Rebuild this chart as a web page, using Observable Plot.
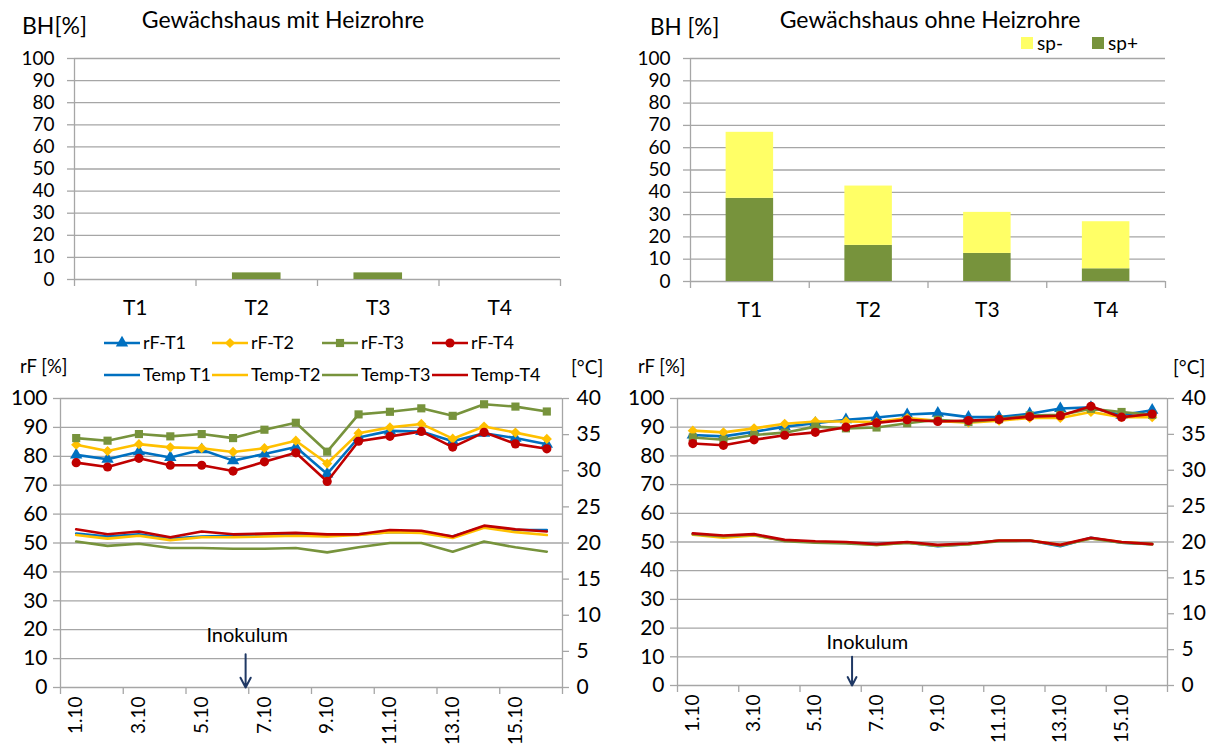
<!DOCTYPE html>
<html><head><meta charset="utf-8">
<script src="https://cdn.jsdelivr.net/npm/d3@7"></script>
<script src="https://cdn.jsdelivr.net/npm/@observablehq/plot@0.6"></script>
<style>
body{margin:0;background:#fff;}
#root{position:relative;width:1225px;height:747px;overflow:hidden;font-family:Lato,"Open Sans",sans-serif;color:#000;background:#fff;}
.abs{position:absolute;white-space:nowrap;line-height:1;}
</style></head><body><div id="root"></div>
<script>
// ---------- DATA ----------
const categories = ["T1", "T2", "T3", "T4"];
const mitSpPlus  = [0, 3, 3, 0];
const mitSpMinus = [0, 0, 0, 0];
const ohneSpPlus  = [37.3, 16.2, 12.6, 5.7];
const ohneSpMinus = [29.6, 26.6, 18.4, 21.1];

const days = [1, 2, 3, 4, 5, 6, 7, 8, 9, 10, 11, 12, 13, 14, 15, 16];
const xTickLabels = ["1.10", "3.10", "5.10", "7.10", "9.10", "11.10", "13.10", "15.10"];
const rfSeries = ["rF-T1", "rF-T2", "rF-T3", "rF-T4"];
const tempSeries = ["Temp T1", "Temp-T2", "Temp-T3", "Temp-T4"];

// Gewächshaus mit Heizrohre
const mitRfT1 = [80.5, 79.0, 81.6, 79.6, 82.3, 78.5, 80.8, 83.2, 73.9, 86.5, 88.8, 88.6, 85.2, 88.0, 86.3, 84.2];
const mitRfT2 = [84.0, 81.8, 84.2, 83.1, 82.8, 81.5, 82.8, 85.4, 77.5, 88.0, 90.0, 91.2, 86.1, 90.3, 88.2, 86.0];
const mitRfT3 = [86.3, 85.4, 87.7, 86.9, 87.7, 86.3, 89.2, 91.6, 81.6, 94.5, 95.4, 96.6, 94.0, 98.0, 97.2, 95.5];
const mitRfT4 = [77.8, 76.3, 79.3, 76.9, 76.9, 74.9, 78.1, 81.2, 71.3, 85.2, 86.9, 88.6, 83.2, 88.3, 84.3, 82.6];
const mitTempT1 = [21.3, 20.9, 21.2, 20.6, 20.9, 21.0, 21.1, 21.2, 21.2, 21.2, 21.5, 21.5, 20.9, 22.3, 21.8, 21.8];
const mitTempT2 = [21.1, 20.6, 21.0, 20.4, 20.8, 20.8, 20.9, 21.0, 20.9, 21.1, 21.5, 21.4, 20.7, 22.1, 21.5, 21.1];
const mitTempT3 = [20.2, 19.6, 19.9, 19.3, 19.3, 19.2, 19.2, 19.3, 18.7, 19.4, 20.0, 20.0, 18.8, 20.2, 19.4, 18.8];
const mitTempT4 = [21.9, 21.2, 21.6, 20.8, 21.6, 21.2, 21.3, 21.4, 21.2, 21.2, 21.8, 21.7, 20.9, 22.4, 21.9, 21.6];

// Gewächshaus ohne Heizrohre
const ohneRfT1 = [87.3, 86.8, 88.4, 90.2, 91.4, 92.6, 93.4, 94.4, 94.9, 93.5, 93.5, 94.7, 96.5, 96.9, 94.2, 95.9];
const ohneRfT2 = [88.8, 88.2, 89.6, 91.2, 92.0, 92.0, 91.8, 93.2, 92.2, 91.6, 92.3, 93.2, 93.2, 95.3, 93.5, 93.5];
const ohneRfT3 = [86.4, 85.6, 87.3, 88.1, 90.2, 89.6, 89.9, 91.4, 92.6, 91.8, 92.8, 94.1, 94.3, 96.4, 95.3, 94.3];
const ohneRfT4 = [84.3, 83.7, 85.6, 87.2, 88.2, 90.0, 91.5, 92.6, 92.0, 92.3, 92.7, 93.7, 94.0, 97.3, 93.5, 94.6];
const ohneTempT1 = [21.1, 20.8, 21.0, 20.2, 20.0, 19.9, 19.7, 19.9, 19.4, 19.7, 20.2, 20.2, 19.4, 20.6, 19.9, 19.7];
const ohneTempT2 = [21.0, 20.6, 20.9, 20.2, 20.0, 19.9, 19.6, 19.9, 19.5, 19.7, 20.2, 20.2, 19.6, 20.5, 20.0, 19.7];
const ohneTempT3 = [21.1, 20.8, 21.0, 20.1, 19.9, 19.8, 19.6, 19.9, 19.5, 19.7, 20.1, 20.2, 19.5, 20.5, 19.9, 19.7];
const ohneTempT4 = [21.2, 20.9, 21.1, 20.3, 20.1, 20.0, 19.7, 20.0, 19.6, 19.8, 20.2, 20.2, 19.6, 20.6, 20.0, 19.7];

// Inokulum annotation (day position of the arrow, label position, rF extent of the arrow)
const inokulumMit  = [{day: 6.4, textDay: 6.45, top: 11.5, bottom: 0, textY: 18}];
const inokulumOhne = [{day: 6.2, textDay: 6.7,  top: 10,   bottom: 0, textY: 15}];

// ---------- STYLE ----------
const GRID = "#a6a6a6";
const BAR_GREEN = "#77933C", BAR_YELLOW = "#FFFF66";
const seriesColors = ["#0070C0", "#FFC000", "#77933C", "#C00000"];
const seriesSymbols = ["triangle", "diamond2", "square", "circle"];
const FONT = "Lato, 'Open Sans', sans-serif";
const TEMP_FACTOR = 2.5; // 40 °C on the right axis ↔ 100 % on the left axis

const root = document.getElementById("root");
function place(el, left, top) {
  el.style.position = "absolute"; el.style.left = left + "px"; el.style.top = top + "px";
  root.appendChild(el);
}
function label(text, x, y, size, anchor = "start") {
  const d = document.createElement("div");
  d.className = "abs"; d.textContent = text; d.style.fontSize = size + "px";
  const tx = anchor === "middle" ? "-50%" : anchor === "end" ? "-100%" : "0";
  d.style.transform = `translate(${tx},-50%)`;
  place(d, x, y);
}

// ---------- BAR PANELS ----------
function barPanel(spPlus, spMinus, g) {
  const rows = [];
  categories.forEach((c, i) => {
    rows.push({i, series: "sp+", y1: 0, y2: spPlus[i]});
    rows.push({i, series: "sp-", y1: spPlus[i], y2: spPlus[i] + spMinus[i]});
  });
  return Plot.plot({
    width: g.width, height: g.height,
    marginLeft: g.mL, marginRight: g.mR, marginTop: g.mT, marginBottom: g.mB,
    style: {fontFamily: FONT, background: "transparent", color: "#000", overflow: "visible"},
    x: {domain: [0, 4], label: null},
    y: {domain: [0, 100], label: null},
    color: {domain: ["sp+", "sp-"], range: [BAR_GREEN, BAR_YELLOW]},
    marks: [
      Plot.gridY({ticks: d3.range(0, 101, 10), stroke: GRID, strokeOpacity: 1, strokeWidth: 1.3}),
      Plot.axisY({ticks: d3.range(0, 101, 10), tickSize: 7, tickPadding: 13, stroke: GRID, strokeOpacity: 1, strokeWidth: 1.3, fill: "#000", fontSize: 19, label: null}),
      Plot.ruleX([0], {stroke: GRID, strokeWidth: 1.3}),
      Plot.axisX({ticks: d3.range(0, 5), tickSize: 7, tickFormat: () => "", stroke: GRID, strokeOpacity: 1, strokeWidth: 1.3, label: null}),
      Plot.axisX({ticks: categories.map((c, i) => i + 0.5), tickSize: 0, tickPadding: 21,
        tickFormat: d => categories[Math.floor(d)], fill: "#000", fontSize: 21, label: null}),
      Plot.rect(rows.filter(d => d.y2 > d.y1), {x1: d => d.i + 0.3, x2: d => d.i + 0.7, y1: "y1", y2: "y2", fill: "series"})
    ]
  });
}

place(barPanel(mitSpPlus, mitSpMinus, {width: 610, height: 330, mL: 74, mR: 50, mT: 58, mB: 51}), 0, 0);
place(barPanel(ohneSpPlus, ohneSpMinus, {width: 615, height: 332, mL: 80, mR: 60, mT: 58, mB: 51}), 610, 0);

label("BH[%]", 22, 25, 23);
label("Gewächshaus mit Heizrohre", 283, 19, 23, "middle");
label("BH [%]", 650, 27, 22.5);
label("Gewächshaus ohne Heizrohre", 930, 19, 23, "middle");

// legend sp- / sp+
(function () {
  const s = d3.create("svg").attr("width", 160).attr("height", 24)
    .style("font-family", FONT).style("overflow", "visible");
  [["sp-", BAR_YELLOW, 0], ["sp+", BAR_GREEN, 71]].forEach(([t, c, x]) => {
    s.append("rect").attr("x", x).attr("y", 6).attr("width", 12).attr("height", 12).attr("fill", c);
    s.append("text").attr("x", x + 16).attr("y", 12).attr("dy", "0.35em").attr("font-size", 19).text(t);
  });
  place(s.node(), 1021, 31);
})();

// ---------- LINE PANELS ----------
function linePanel(rf, temp, inok, g) {
  const rfRows = [], tRows = [];
  rfSeries.forEach((s, k) => days.forEach((d, j) => rfRows.push({series: s, k, day: d, v: rf[k][j]})));
  tempSeries.forEach((s, k) => days.forEach((d, j) => tRows.push({series: s, k, day: d, t: temp[k][j]})));
  const tickDays = xTickLabels.map(l => parseInt(l));
  const marks = [
    Plot.gridY({ticks: d3.range(0, 101, 10), stroke: GRID, strokeOpacity: 1, strokeWidth: 1.3}),
    Plot.ruleX([0.5, 16.5], {stroke: GRID, strokeWidth: 1.3}),
    Plot.axisY({anchor: "left", ticks: d3.range(0, 101, 10), tickSize: 7, tickPadding: 6, stroke: GRID, strokeOpacity: 1, strokeWidth: 1.3, fill: "#000", fontSize: 21, label: null}),
    Plot.axisY({anchor: "right", ticks: d3.range(0, 101, 12.5), tickFormat: d => d / TEMP_FACTOR, tickSize: 6, tickPadding: 8, stroke: GRID, strokeOpacity: 1, strokeWidth: 1.3, fill: "#000", fontSize: 21, label: null}),
    Plot.axisX({ticks: d3.range(0.5, 17, 2), tickSize: 7, tickFormat: () => "", stroke: GRID, strokeOpacity: 1, strokeWidth: 1.3, label: null}),
    Plot.axisX({ticks: tickDays, tickSize: 0, tickPadding: 9, tickRotate: -90,
      tickFormat: d => xTickLabels[tickDays.indexOf(d)], fill: "#000", fontSize: 19, label: null})
  ];
  rfSeries.forEach((s, k) => {
    const data = rfRows.filter(d => d.k === k);
    marks.push(Plot.line(data, {x: "day", y: "v", stroke: seriesColors[k], strokeWidth: 2.6}));
    marks.push(Plot.dot(data, {x: "day", y: "v", fill: seriesColors[k], symbol: () => seriesSymbols[k], r: 4.6, stroke: "none"}));
  });
  tempSeries.forEach((s, k) => {
    const data = tRows.filter(d => d.k === k);
    marks.push(Plot.line(data, {x: "day", y: d => d.t * TEMP_FACTOR, stroke: seriesColors[k], strokeWidth: 2.6}));
  });
  marks.push(Plot.arrow(inok, {x1: "day", x2: "day", y1: "top", y2: "bottom", stroke: "#1F3864", strokeWidth: 2, headLength: 11, headAngle: 55}));
  marks.push(Plot.text(inok, {x: "textDay", y: "textY", text: () => "Inokulum", fontSize: 20, fill: "#000"}));
  return Plot.plot({
    width: g.width, height: g.height,
    marginLeft: g.mL, marginRight: g.mR, marginTop: g.mT, marginBottom: g.mB,
    style: {fontFamily: FONT, background: "transparent", color: "#000", overflow: "visible"},
    x: {domain: [0.5, 16.5], label: null},
    y: {domain: [0, 100], label: null},
    symbol: {type: "identity"},
    marks
  });
}

place(linePanel([mitRfT1, mitRfT2, mitRfT3, mitRfT4], [mitTempT1, mitTempT2, mitTempT3, mitTempT4], inokulumMit,
  {width: 612, height: 417, mL: 60, mR: 50, mT: 68, mB: 60}), 0, 330);
place(linePanel([ohneRfT1, ohneRfT2, ohneRfT3, ohneRfT4], [ohneTempT1, ohneTempT2, ohneTempT3, ohneTempT4], inokulumOhne,
  {width: 613, height: 417, mL: 65, mR: 58, mT: 68, mB: 62}), 612, 330);

label("rF [%]", 20, 366, 18.5);
label("[°C]", 571, 366, 19);
label("rF [%]", 638, 366, 18.5);
label("[°C]", 1173, 366, 19);

// legend for the line charts
(function () {
  const s = d3.create("svg").attr("width", 560).attr("height", 64)
    .style("font-family", FONT).style("overflow", "visible");
  const colX = [104, 212, 322, 432];
  const sym = d3.symbol().size(4.6 * 4.6 * Math.PI);
  const symTypes = {triangle: d3.symbolTriangle, diamond2: d3.symbolDiamond2, square: d3.symbolSquare, circle: d3.symbolCircle};
  [[rfSeries, 17, true], [tempSeries, 49, false]].forEach(([names, y, withMarker]) => {
    names.forEach((n, k) => {
      const x = colX[k];
      s.append("line").attr("x1", x).attr("x2", x + 36).attr("y1", y).attr("y2", y)
        .attr("stroke", seriesColors[k]).attr("stroke-width", 2.6);
      if (withMarker) {
        s.append("path").attr("d", sym.type(symTypes[seriesSymbols[k]])())
          .attr("transform", `translate(${x + 18},${y})`).attr("fill", seriesColors[k]);
      }
      s.append("text").attr("x", x + 39).attr("y", y).attr("dy", "0.35em").attr("font-size", 18).text(n);
    });
  });
  place(s.node(), 0, 326);
})();
</script></body></html>
